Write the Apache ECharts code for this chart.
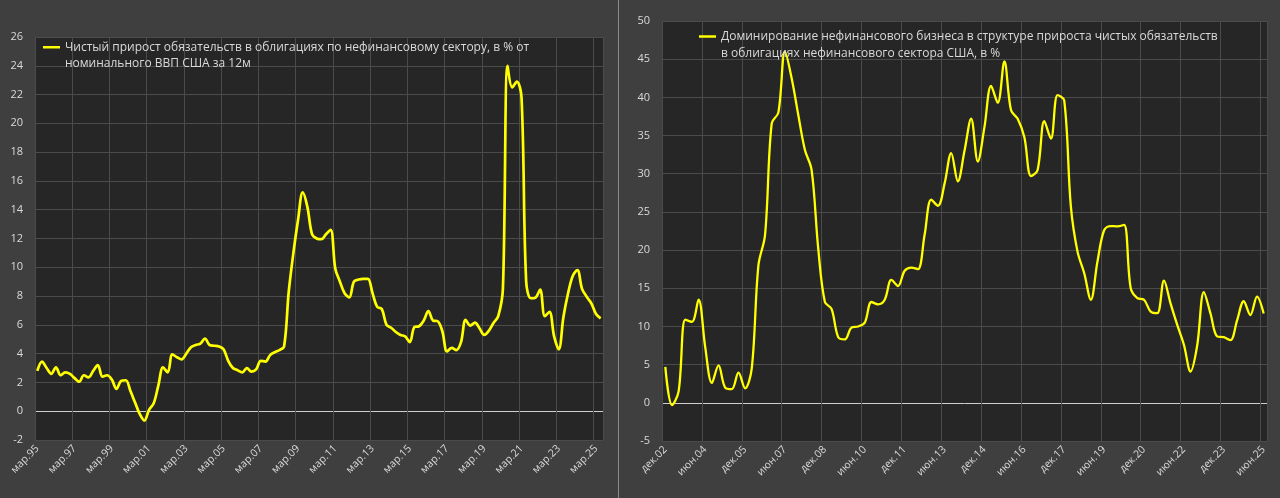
<!DOCTYPE html>
<html>
<head>
<meta charset="utf-8">
<script src="https://cdn.jsdelivr.net/npm/echarts@6/dist/echarts.min.js"></script>
<style>
  html, body { margin: 0; padding: 0; background: #3f3f3f; }
  #wrap { width: 1280px; height: 498px; position: relative; overflow: hidden; }
  #left { position: absolute; left: 0; top: 0; width: 618px; height: 498px; }
  #sep { position: absolute; left: 618px; top: 0; width: 1px; height: 498px; background: #8a8a8a; }
  #right { position: absolute; left: 619px; top: 0; width: 661px; height: 498px; }
</style>
</head>
<body>
<div id="wrap">
  <div id="left"></div>
  <div id="sep"></div>
  <div id="right"></div>
</div>
<script>
// ---------- DATA ----------
const quarterNames = ['мар', 'июн', 'сен', 'дек'];

// Left chart: quarterly, from мар.95 (Q1 1995) to июн.25
const leftStart = { year: 1995, q: 0 };
const leftValues = [
  2.8, 3.45, 3.0, 2.6, 3.05, 2.5, 2.7, 2.6, 2.3, 2.05,
  2.5, 2.35, 2.8, 3.2, 2.4, 2.5, 2.2, 1.55, 2.1, 2.15,
  1.4, 0.6, -0.2, -0.65, 0.1, 0.55, 1.8, 3.05, 2.7, 3.95,
  3.75, 3.6, 4.0, 4.45, 4.6, 4.7, 5.05, 4.6, 4.55, 4.5,
  4.3, 3.5, 3.0, 2.85, 2.7, 3.0, 2.75, 2.9, 3.5, 3.45,
  3.9, 4.1, 4.25, 4.5, 8.3, 11.0, 13.3, 15.2, 14.2, 12.3,
  12.0, 11.95, 12.3, 12.6, 9.9, 9.0, 8.2, 7.9, 9.0, 9.15,
  9.2, 9.2, 8.2, 7.25, 7.1, 6.0, 5.8, 5.5, 5.3, 5.2,
  4.8, 5.85, 5.9, 6.3, 6.95, 6.3, 6.25, 5.55, 4.15, 4.4,
  4.25, 4.8, 6.35, 5.95, 6.15, 5.75, 5.3, 5.6, 6.15, 6.6,
  8.5, 24.0, 22.5, 22.9, 21.8, 9.0, 7.85, 7.9, 8.45, 6.6,
  6.9, 5.2, 4.3, 6.55, 8.2, 9.4, 9.8, 8.5, 7.95, 7.5,
  6.75, 6.45
];
const leftName = 'Чистый прирост обязательств в облигациях по нефинансовому сектору, в % от номинального ВВП США за 12м';
const leftLegendLines = [
  'Чистый прирост обязательств в облигациях по нефинансовому сектору, в % от',
  'номинального ВВП США за 12м'
];
const leftYAxis = { min: -2, max: 26, interval: 2 };
const leftLabelEvery = 8;

// Right chart: quarterly, from дек.02 (Q4 2002) to июн.25
const rightStart = { year: 2002, q: 3 };
const rightValues = [
  4.7, -0.3, 1.5, 10.9, 10.6, 13.5, 7.3, 2.6, 4.9, 2.0,
  1.8, 3.95, 1.9, 4.5, 18.0, 22.0, 36.6, 38.0, 46.0, 42.5,
  37.7, 33.1, 30.5, 20.2, 13.2, 12.3, 8.6, 8.3, 9.85, 10.0,
  10.5, 13.2, 12.9, 13.5, 16.1, 15.3, 17.3, 17.7, 17.5, 22.0,
  26.6, 25.8, 28.7, 32.7, 29.0, 33.0, 37.2, 31.6, 36.1, 41.5,
  39.3, 44.7, 38.3, 37.2, 34.8, 29.7, 30.5, 36.9, 34.6, 40.3,
  39.6, 25.7, 19.8, 17.0, 13.5, 18.5, 22.6, 23.15, 23.1, 23.3,
  15.0, 13.7, 13.5, 11.95, 11.75, 16.0, 13.0, 10.2, 7.6, 4.1,
  7.5, 14.5, 11.7, 8.7, 8.6, 8.2, 10.8, 13.3, 11.5, 13.9,
  11.7
];
const rightName = 'Доминирование нефинансового бизнеса в структуре прироста чистых обязательств в облигациях нефинансового сектора США, в %';
const rightLegendLines = [
  'Доминирование нефинансового бизнеса в структуре прироста чистых обязательств',
  'в облигациях нефинансового сектора США, в %'
];
const rightYAxis = { min: -5, max: 50, interval: 5 };
const rightLabelEvery = 6;

// ---------- BUILD ----------
function buildCategories(start, n) {
  const out = [];
  let y = start.year, q = start.q;
  for (let i = 0; i < n; i++) {
    out.push(quarterNames[q] + '.' + String(y % 100).padStart(2, '0'));
    q++;
    if (q > 3) { q = 0; y++; }
  }
  return out;
}

const FONT = "'Open Sans', 'Noto Sans', sans-serif";
const TEXT = '#d9d9d9';
const GRID = '#4b4b4b';
const ZERO = '#cfcfcf';
const LINE = '#ffff00';

function splitColors(ax) {
  const arr = [];
  for (let v = ax.min; v <= ax.max + 1e-9; v += ax.interval) {
    arr.push(Math.abs(v) < 1e-9 ? ZERO : GRID);
  }
  return arr;
}

function makeOption(cfg) {
  return {
    backgroundColor: '#3f3f3f',
    animation: false,
    textStyle: { fontFamily: FONT },
    grid: {
      left: cfg.grid[0], right: cfg.grid[1], top: cfg.grid[2], bottom: cfg.grid[3],
      show: true, backgroundColor: '#262626', borderWidth: 0
    },
    legend: {
      data: [cfg.name],
      left: cfg.legendLeft, top: cfg.legendTop,
      padding: 0,
      icon: 'rect', itemWidth: 17, itemHeight: 2.5,
      selectedMode: false,
      // leading empty line keeps the legend line beside the first text line
      formatter: () => [''].concat(cfg.legendLines).join('\n'),
      textStyle: {
        color: TEXT, fontFamily: FONT, fontSize: cfg.legendFont,
        lineHeight: cfg.legendLH
      }
    },
    xAxis: {
      type: 'category',
      data: cfg.categories,
      boundaryGap: true,
      axisLine: { show: false },
      axisTick: { show: false },
      axisLabel: {
        interval: cfg.every - 1, rotate: 45, color: TEXT,
        fontFamily: FONT, fontSize: 10.5, margin: 7
      },
      splitLine: { show: true, interval: cfg.every - 1, lineStyle: { color: GRID, width: 1 } }
    },
    yAxis: {
      type: 'value',
      min: cfg.y.min, max: cfg.y.max, interval: cfg.y.interval,
      axisLine: { show: false },
      axisTick: { show: false },
      axisLabel: { color: TEXT, fontFamily: FONT, fontSize: 11, margin: 12 },
      splitLine: { show: true, lineStyle: { color: splitColors(cfg.y), width: 1 } }
    },
    series: [{
      name: cfg.name,
      type: 'line',
      data: cfg.values,
      smooth: 0.35,
      symbol: 'none',
      lineStyle: { color: LINE, width: cfg.lineWidth },
      itemStyle: { color: LINE }
    }]
  };
}

const leftChart = echarts.init(document.getElementById('left'), null, { renderer: 'canvas' });
leftChart.setOption(makeOption({
  grid: [35, 15, 37, 58],
  name: leftName,
  legendLines: leftLegendLines,
  legendLeft: 43, legendTop: 22.5, legendFont: 12, legendLH: 16.5,
  categories: buildCategories(leftStart, leftValues.length),
  every: leftLabelEvery,
  y: leftYAxis,
  values: leftValues,
  lineWidth: 2.7
}));

const rightChart = echarts.init(document.getElementById('right'), null, { renderer: 'canvas' });
rightChart.setOption(makeOption({
  grid: [43, 13, 21, 57],
  name: rightName,
  legendLines: rightLegendLines,
  legendLeft: 80, legendTop: 11, legendFont: 12, legendLH: 17,
  categories: buildCategories(rightStart, rightValues.length),
  every: rightLabelEvery,
  y: rightYAxis,
  values: rightValues,
  lineWidth: 2.3
}));
</script>
</body>
</html>
